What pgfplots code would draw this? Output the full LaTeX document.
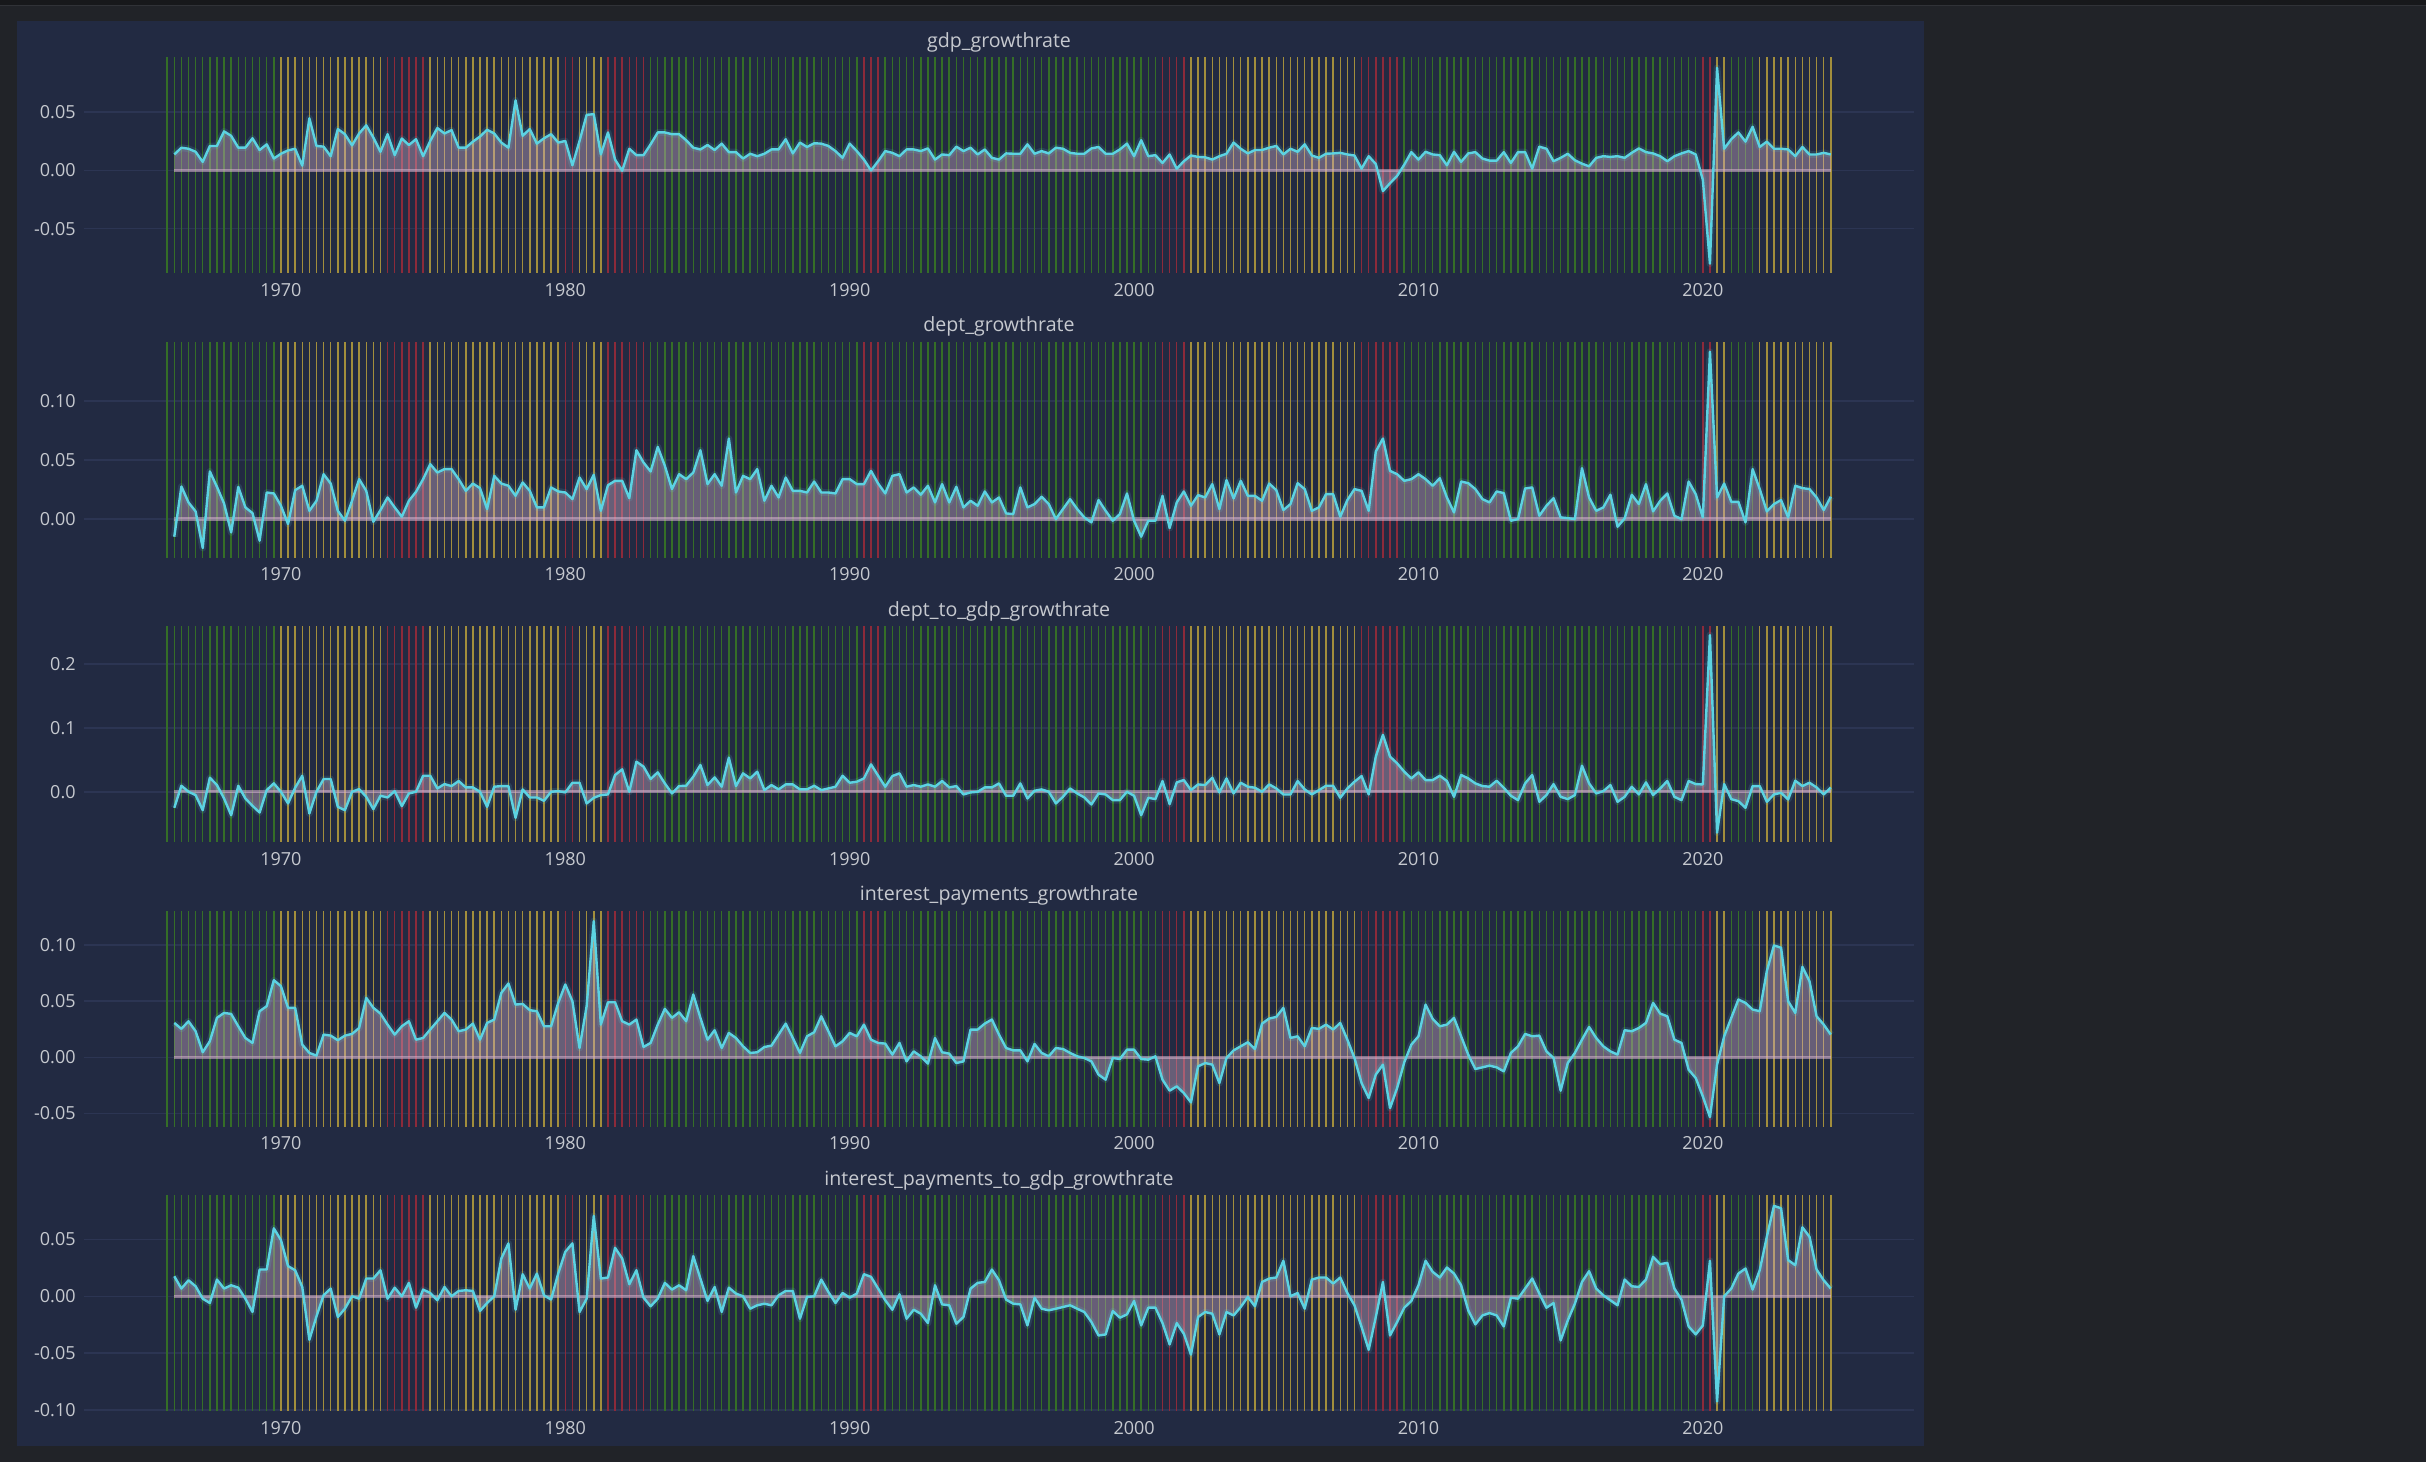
\documentclass[border=0pt]{standalone}
\usepackage{pgfplots}
\pgfplotsset{compat=1.18}
\usepackage{pgfplotstable}
\usepackage{fontspec}
\setmainfont{Open Sans}
\definecolor{bgout}{HTML}{212328}
\definecolor{bgtop}{HTML}{17181B}
\definecolor{bgline}{HTML}{303237}
\definecolor{panel}{HTML}{222A42}
\definecolor{gridc}{HTML}{2C3553}
\definecolor{txt}{HTML}{C6C9CF}
\definecolor{vg}{HTML}{356E27}
\definecolor{vy}{HTML}{A28E3C}
\definecolor{vr}{HTML}{8C2A3A}
\definecolor{linec}{HTML}{5CD3E2}
\definecolor{fillc}{HTML}{D9B5CF}

\pgfplotstableread{
t b
1966.0 -1
1966.25 -1
1966.5 -1
1966.75 -1
1967.0 -1
1967.25 -1
1967.5 -1
1967.75 -1
1968.0 -1
1968.25 -1
1968.5 -1
1968.75 -1
1969.0 -1
1969.25 -1
1969.5 -1
1969.75 -1
1983.0 -1
1983.25 -1
1983.5 -1
1983.75 -1
1984.0 -1
1984.25 -1
1984.5 -1
1984.75 -1
1985.0 -1
1985.25 -1
1985.5 -1
1985.75 -1
1986.0 -1
1986.25 -1
1986.5 -1
1986.75 -1
1987.0 -1
1987.25 -1
1987.5 -1
1987.75 -1
1988.0 -1
1988.25 -1
1988.5 -1
1988.75 -1
1989.0 -1
1989.25 -1
1989.5 -1
1989.75 -1
1990.0 -1
1990.25 -1
1991.25 -1
1991.5 -1
1991.75 -1
1992.0 -1
1992.25 -1
1992.5 -1
1992.75 -1
1993.0 -1
1993.25 -1
1993.5 -1
1993.75 -1
1994.0 -1
1994.25 -1
1994.5 -1
1994.75 -1
1995.0 -1
1995.25 -1
1995.5 -1
1995.75 -1
1996.0 -1
1996.25 -1
1996.5 -1
1996.75 -1
1997.0 -1
1997.25 -1
1997.5 -1
1997.75 -1
1998.0 -1
1998.25 -1
1998.5 -1
1998.75 -1
1999.0 -1
1999.25 -1
1999.5 -1
1999.75 -1
2000.0 -1
2000.25 -1
2000.5 -1
2000.75 -1
2009.5 -1
2009.75 -1
2010.0 -1
2010.25 -1
2010.5 -1
2010.75 -1
2011.0 -1
2011.25 -1
2011.5 -1
2011.75 -1
2012.0 -1
2012.25 -1
2012.5 -1
2012.75 -1
2013.0 -1
2013.25 -1
2013.5 -1
2013.75 -1
2014.0 -1
2014.25 -1
2014.5 -1
2014.75 -1
2015.0 -1
2015.25 -1
2015.5 -1
2015.75 -1
2016.0 -1
2016.25 -1
2016.5 -1
2016.75 -1
2017.0 -1
2017.25 -1
2017.5 -1
2017.75 -1
2018.0 -1
2018.25 -1
2018.5 -1
2018.75 -1
2019.0 -1
2019.25 -1
2019.5 -1
2019.75 -1
2021.0 -1
2021.25 -1
2021.5 -1
2021.75 -1
}\greenT

\pgfplotstableread{
t b
1970.0 -1
1970.25 -1
1970.5 -1
1970.75 -1
1971.0 -1
1971.25 -1
1971.5 -1
1971.75 -1
1972.0 -1
1972.25 -1
1972.5 -1
1972.75 -1
1973.0 -1
1973.25 -1
1973.5 -1
1975.25 -1
1975.5 -1
1975.75 -1
1976.0 -1
1976.25 -1
1976.5 -1
1976.75 -1
1977.0 -1
1977.25 -1
1977.5 -1
1977.75 -1
1978.0 -1
1978.25 -1
1978.5 -1
1978.75 -1
1979.0 -1
1979.25 -1
1979.5 -1
1979.75 -1
1980.5 -1
1980.75 -1
1981.0 -1
1981.25 -1
2002.0 -1
2002.25 -1
2002.5 -1
2002.75 -1
2003.0 -1
2003.25 -1
2003.5 -1
2003.75 -1
2004.0 -1
2004.25 -1
2004.5 -1
2004.75 -1
2005.0 -1
2005.25 -1
2005.5 -1
2005.75 -1
2006.0 -1
2006.25 -1
2006.5 -1
2006.75 -1
2007.0 -1
2007.25 -1
2007.5 -1
2007.75 -1
2020.5 -1
2020.75 -1
2022.0 -1
2022.25 -1
2022.5 -1
2022.75 -1
2023.0 -1
2023.25 -1
2023.5 -1
2023.75 -1
2024.0 -1
2024.25 -1
2024.5 -1
}\yellowT

\pgfplotstableread{
t b
1973.75 -1
1974.0 -1
1974.25 -1
1974.5 -1
1974.75 -1
1975.0 -1
1980.0 -1
1980.25 -1
1981.5 -1
1981.75 -1
1982.0 -1
1982.25 -1
1982.5 -1
1982.75 -1
1990.5 -1
1990.75 -1
1991.0 -1
2001.0 -1
2001.25 -1
2001.5 -1
2001.75 -1
2008.0 -1
2008.25 -1
2008.5 -1
2008.75 -1
2009.0 -1
2009.25 -1
2020.0 -1
2020.25 -1
}\redT

\pgfplotstableread{
t g d dg ip ipg
1966.25 0.0137 -0.0149 -0.0251 0.0306 0.0176
1966.5 0.0195 0.0276 0.0094 0.0253 0.0068
1966.75 0.0186 0.0141 0.0 0.0321 0.0141
1967.0 0.016 0.0065 -0.0052 0.0232 0.0088
1967.25 0.0073 -0.0245 -0.0288 0.0045 -0.0021
1967.5 0.021 0.0403 0.022 0.0143 -0.0059
1967.75 0.021 0.0273 0.0105 0.0351 0.0147
1968.0 0.0335 0.0132 -0.0105 0.0395 0.0068
1968.25 0.0297 -0.0113 -0.0367 0.0386 0.0097
1968.5 0.0195 0.0273 0.0094 0.0276 0.0076
1968.75 0.0195 0.0099 -0.0105 0.0172 -0.0021
1969.0 0.0276 0.0051 -0.022 0.0128 -0.0138
1969.25 0.0175 -0.0183 -0.0325 0.041 0.0235
1969.5 0.0224 0.0225 0.0026 0.0455 0.0235
1969.75 0.0102 0.0217 0.0131 0.0686 0.0597
1970.0 0.0143 0.0113 0.0 0.0633 0.0494
1970.25 0.0172 -0.0042 -0.0183 0.044 0.0265
1970.5 0.0186 0.0245 0.0063 0.044 0.0229
1970.75 0.0041 0.0282 0.0251 0.0113 0.0082
1971.0 0.0448 0.007 -0.034 0.0039 -0.0382
1971.25 0.021 0.0155 0.0 0.0015 -0.0176
1971.5 0.0204 0.038 0.0199 0.0202 0.0009
1971.75 0.0122 0.0301 0.0199 0.0193 0.0068
1972.0 0.0355 0.007 -0.0236 0.0152 -0.0182
1972.25 0.0311 -0.0014 -0.0288 0.0193 -0.0109
1972.5 0.0215 0.0155 0.0 0.0208 0.0
1972.75 0.0317 0.0338 0.0042 0.0261 -0.0021
1973.0 0.0387 0.0239 -0.0079 0.0529 0.0156
1973.25 0.0282 -0.0023 -0.0272 0.044 0.0156
1973.5 0.016 0.0076 -0.0063 0.0389 0.0229
1973.75 0.0311 0.0183 -0.0089 0.0291 -0.0021
1974.0 0.0131 0.0099 0.001 0.0202 0.0076
1974.25 0.0274 0.002 -0.0225 0.0276 0.0
1974.5 0.0218 0.0155 -0.0026 0.0321 0.0118
1974.75 0.0268 0.0231 0.0 0.0157 -0.01
1975.0 0.0122 0.0338 0.0251 0.0172 0.0059
1975.25 0.0253 0.0465 0.0251 0.0247 0.0029
1975.5 0.0364 0.0394 0.0052 0.0321 -0.0035
1975.75 0.0317 0.0423 0.012 0.0395 0.0082
1976.0 0.0346 0.0423 0.0089 0.0336 0.0
1976.25 0.0195 0.0338 0.0168 0.0232 0.0047
1976.5 0.0195 0.0239 0.0068 0.0247 0.0053
1976.75 0.0247 0.0301 0.0068 0.03 0.0047
1977.0 0.0291 0.0262 0.0 0.0157 -0.0129
1977.25 0.0349 0.0085 -0.0236 0.0306 -0.0059
1977.5 0.0317 0.0366 0.0079 0.0336 0.0
1977.75 0.0239 0.0301 0.0089 0.0573 0.0332
1978.0 0.0195 0.0282 0.0089 0.0657 0.0465
1978.25 0.0602 0.0197 -0.0408 0.0469 -0.0118
1978.5 0.0297 0.031 0.0037 0.0475 0.0194
1978.75 0.0355 0.0239 -0.0089 0.0419 0.0068
1979.0 0.023 0.0099 -0.0089 0.041 0.02
1979.25 0.0276 0.0099 -0.0141 0.0276 0.0009
1979.5 0.0311 0.0268 0.0 0.0276 -0.0029
1979.75 0.0239 0.0234 0.001 0.0484 0.02
1980.0 0.0253 0.0225 -0.001 0.0648 0.0391
1980.25 0.0044 0.0169 0.0141 0.0499 0.0465
1980.5 0.0253 0.0352 0.0141 0.0083 -0.0138
1980.75 0.0477 0.0254 -0.0183 0.0455 -0.0021
1981.0 0.0483 0.0375 -0.0094 0.1212 0.0706
1981.25 0.0137 0.007 -0.0052 0.0291 0.0156
1981.5 0.0326 0.0287 -0.0042 0.049 0.0165
1981.75 0.0093 0.0324 0.0262 0.049 0.0426
1982.0 -0.0003 0.0324 0.0351 0.0321 0.0332
1982.25 0.0186 0.0177 0.0 0.0291 0.0106
1982.5 0.0131 0.0583 0.0471 0.0336 0.0229
1982.75 0.0131 0.0479 0.0393 0.0092 -0.0012
1983.0 0.0224 0.0403 0.0199 0.0128 -0.0088
1983.25 0.0326 0.0611 0.0304 0.0291 -0.0021
1983.5 0.0326 0.0451 0.0131 0.0431 0.0118
1983.75 0.0311 0.0254 -0.0026 0.0351 0.0059
1984.0 0.0311 0.038 0.0089 0.0401 0.0097
1984.25 0.0259 0.0338 0.0094 0.0321 0.0053
1984.5 0.0195 0.0394 0.0236 0.0559 0.0353
1984.75 0.018 0.0583 0.0419 0.0351 0.0156
1985.0 0.0218 0.0296 0.0105 0.0157 -0.0041
1985.25 0.0175 0.038 0.0225 0.0241 0.0082
1985.5 0.023 0.0282 0.0079 0.0083 -0.0138
1985.75 0.0157 0.0682 0.0534 0.0217 0.0076
1986.0 0.0157 0.0225 0.0089 0.0172 0.0024
1986.25 0.0102 0.0366 0.0288 0.0098 0.0
1986.5 0.0143 0.0338 0.0209 0.0039 -0.0109
1986.75 0.0122 0.0423 0.0314 0.0045 -0.0079
1987.0 0.0143 0.0155 0.0026 0.0092 -0.0065
1987.25 0.018 0.0282 0.0105 0.0104 -0.0079
1987.5 0.018 0.0183 0.0037 0.0202 0.0009
1987.75 0.0268 0.0352 0.0115 0.03 0.0047
1988.0 0.0146 0.0239 0.0115 0.0172 0.0047
1988.25 0.0239 0.0239 0.0037 0.0039 -0.0197
1988.5 0.0201 0.0225 0.0037 0.0187 -0.0006
1988.75 0.0233 0.0318 0.0094 0.0223 0.0
1989.0 0.023 0.0225 0.0026 0.0365 0.0147
1989.25 0.021 0.0225 0.0052 0.0232 0.0038
1989.5 0.0166 0.0217 0.0079 0.0098 -0.0059
1989.75 0.0108 0.0338 0.0251 0.0143 0.0029
1990.0 0.023 0.0338 0.0141 0.0217 -0.0012
1990.25 0.0166 0.0296 0.0157 0.0187 0.0024
1990.5 0.0093 0.0296 0.0209 0.0291 0.0194
1990.75 0.0 0.0408 0.0429 0.0157 0.0171
1991.0 0.0079 0.0301 0.0251 0.0128 0.0068
1991.25 0.0166 0.0217 0.0079 0.0122 -0.0035
1991.5 0.0151 0.0366 0.0246 0.0024 -0.0118
1991.75 0.0122 0.038 0.0288 0.0128 0.0018
1992.0 0.018 0.0225 0.0079 -0.0036 -0.0197
1992.25 0.018 0.0268 0.0105 0.0053 -0.0118
1992.5 0.0166 0.0206 0.0079 0.0009 -0.0153
1992.75 0.0189 0.0282 0.0115 -0.0056 -0.0235
1993.0 0.0093 0.0141 0.0079 0.0172 0.0097
1993.25 0.0137 0.0296 0.0168 0.0045 -0.0071
1993.5 0.0131 0.0141 0.0068 0.0033 -0.0079
1993.75 0.0204 0.0273 0.0089 -0.0051 -0.0241
1994.0 0.0166 0.0099 -0.0042 -0.0036 -0.0182
1994.25 0.0195 0.0155 -0.001 0.0247 0.0068
1994.5 0.0137 0.0113 0.0 0.0247 0.0118
1994.75 0.018 0.0234 0.0068 0.03 0.0126
1995.0 0.0108 0.0141 0.0068 0.0336 0.0235
1995.25 0.0093 0.0183 0.0131 0.0202 0.0141
1995.5 0.0146 0.0048 -0.0063 0.0083 -0.0029
1995.75 0.0143 0.0042 -0.0063 0.0062 -0.0065
1996.0 0.0143 0.0268 0.0131 0.0062 -0.0071
1996.25 0.0224 0.0099 -0.0105 -0.0036 -0.0256
1996.5 0.0143 0.0127 0.0016 0.0119 -0.0012
1996.75 0.0166 0.0189 0.0037 0.0039 -0.0109
1997.0 0.0146 0.0127 0.0 0.0009 -0.0123
1997.25 0.0195 0.0 -0.0183 0.0083 -0.0109
1997.5 0.0186 0.0085 -0.0079 0.0074 -0.0094
1997.75 0.0151 0.0169 0.0052 0.0039 -0.0079
1998.0 0.0143 0.0085 -0.0026 0.0009 -0.0109
1998.25 0.0143 0.0014 -0.0089 -0.0006 -0.0138
1998.5 0.0189 -0.0028 -0.0199 -0.0036 -0.0226
1998.75 0.0201 0.0161 -0.0026 -0.0154 -0.0344
1999.0 0.0143 0.007 -0.0042 -0.0199 -0.0335
1999.25 0.0143 -0.0014 -0.0131 -0.0006 -0.0129
1999.5 0.018 0.0042 -0.0131 -0.0015 -0.0188
1999.75 0.023 0.0217 0.0 0.0068 -0.0159
2000.0 0.0122 -0.0014 -0.0063 0.0068 -0.0041
2000.25 0.0259 -0.0149 -0.0367 -0.0015 -0.0256
2000.5 0.0122 -0.0014 -0.0094 -0.0021 -0.01
2000.75 0.0131 -0.0014 -0.0115 0.0009 -0.01
2001.0 0.0064 0.0197 0.0168 -0.0199 -0.0235
2001.25 0.0137 -0.0076 -0.0194 -0.0297 -0.0423
2001.5 0.0015 0.0141 0.0147 -0.0258 -0.0235
2001.75 0.0079 0.0234 0.0183 -0.0318 -0.0329
2002.0 0.0128 0.0113 0.0026 -0.0401 -0.0512
2002.25 0.0116 0.0203 0.0115 -0.008 -0.0182
2002.5 0.0113 0.0183 0.0105 -0.0051 -0.0138
2002.75 0.0093 0.0296 0.022 -0.0065 -0.0153
2003.0 0.0122 0.0085 -0.001 -0.0229 -0.0335
2003.25 0.0143 0.033 0.0209 -0.0006 -0.0138
2003.5 0.0239 0.0175 -0.0026 0.0062 -0.0168
2003.75 0.0186 0.0324 0.0141 0.0098 -0.0094
2004.0 0.0146 0.0197 0.0079 0.0134 -0.0006
2004.25 0.0175 0.0197 0.0063 0.0074 -0.0088
2004.5 0.0175 0.0155 0.0 0.03 0.0126
2004.75 0.0195 0.0301 0.0115 0.0345 0.0156
2005.0 0.021 0.0245 0.0052 0.0359 0.0165
2005.25 0.0137 0.0076 -0.0042 0.044 0.0312
2005.5 0.0186 0.0127 -0.0042 0.0172 0.0
2005.75 0.016 0.0304 0.0168 0.0187 0.0029
2006.0 0.0224 0.0254 0.0037 0.0098 -0.0109
2006.25 0.0128 0.007 -0.0042 0.0261 0.0147
2006.5 0.0108 0.0099 0.0026 0.0253 0.0165
2006.75 0.0143 0.0211 0.0094 0.0291 0.0165
2007.0 0.0146 0.0211 0.0094 0.0247 0.0112
2007.25 0.0151 0.002 -0.0094 0.0306 0.0165
2007.5 0.0137 0.0161 0.0052 0.0157 0.0029
2007.75 0.0128 0.0254 0.0157 -0.0006 -0.0079
2008.0 0.0015 0.0239 0.0246 -0.0229 -0.027
2008.25 0.0122 0.007 -0.0042 -0.0362 -0.047
2008.5 0.0055 0.0572 0.055 -0.0154 -0.0182
2008.75 -0.0178 0.0682 0.089 -0.0065 0.0126
2009.0 -0.011 0.0408 0.055 -0.0452 -0.0344
2009.25 -0.0047 0.038 0.0445 -0.0273 -0.0226
2009.5 0.0049 0.0324 0.0314 -0.0045 -0.01
2009.75 0.0157 0.0338 0.0209 0.0113 -0.0041
2010.0 0.0093 0.038 0.0304 0.0187 0.0097
2010.25 0.016 0.0338 0.0183 0.0469 0.0312
2010.5 0.0137 0.0282 0.0183 0.0342 0.0215
2010.75 0.0131 0.0346 0.0251 0.0276 0.0165
2011.0 0.0044 0.0183 0.0168 0.0291 0.0253
2011.25 0.016 0.0056 -0.0079 0.0351 0.02
2011.5 0.0073 0.0318 0.0262 0.0187 0.0097
2011.75 0.0146 0.0304 0.0209 0.0024 -0.0123
2012.0 0.0157 0.0254 0.0131 -0.0104 -0.0247
2012.25 0.0102 0.0169 0.0089 -0.0089 -0.0168
2012.5 0.0084 0.0141 0.0079 -0.0074 -0.0147
2012.75 0.0084 0.0234 0.0173 -0.0089 -0.0168
2013.0 0.0157 0.022 0.0063 -0.0125 -0.0265
2013.25 0.0064 -0.0014 -0.0063 0.0039 -0.0012
2013.5 0.0157 0.0 -0.0131 0.0098 -0.0021
2013.75 0.0157 0.0259 0.0131 0.0208 0.0068
2014.0 0.0015 0.0268 0.0262 0.0187 0.0156
2014.25 0.0204 0.0028 -0.0157 0.0193 0.0024
2014.5 0.0186 0.0113 -0.0052 0.0053 -0.01
2014.75 0.0079 0.0177 0.012 -0.0006 -0.0059
2015.0 0.0108 0.0014 -0.0079 -0.0297 -0.0388
2015.25 0.0143 0.0008 -0.0115 -0.0051 -0.0212
2015.5 0.0087 0.0 -0.0052 0.0039 -0.0065
2015.75 0.0058 0.0431 0.0408 0.0157 0.0126
2016.0 0.0035 0.0183 0.0131 0.027 0.0221
2016.25 0.0108 0.007 -0.0026 0.0172 0.0068
2016.5 0.0122 0.0099 0.001 0.0098 0.0009
2016.75 0.0116 0.0206 0.0105 0.0053 -0.0035
2017.0 0.0122 -0.0065 -0.0157 0.0024 -0.0079
2017.25 0.0108 0.0006 -0.0079 0.0241 0.0147
2017.5 0.0151 0.0206 0.0079 0.0232 0.0088
2017.75 0.0189 0.0127 -0.0042 0.0261 0.0082
2018.0 0.0157 0.0296 0.0147 0.0306 0.0147
2018.25 0.0146 0.0065 -0.0052 0.0484 0.0347
2018.5 0.0122 0.0155 0.0052 0.0389 0.0282
2018.75 0.0079 0.0217 0.0168 0.0365 0.0294
2019.0 0.0122 0.0028 -0.0079 0.0157 0.0068
2019.25 0.0146 0.0 -0.0131 0.0128 -0.0029
2019.5 0.0166 0.0318 0.0168 -0.011 -0.0265
2019.75 0.0137 0.0211 0.012 -0.0184 -0.0335
2020.0 -0.0081 0.0014 0.0115 -0.0348 -0.0256
2020.25 -0.080 0.1417 0.245 -0.0532 0.0312
2020.5 0.088 0.0183 -0.0639 -0.0065 -0.0923
2020.75 0.0186 0.0301 0.012 0.0187 0.0
2021.0 0.0268 0.0146 -0.0115 0.0351 0.0068
2021.25 0.0326 0.0146 -0.0147 0.0514 0.02
2021.5 0.0247 -0.0028 -0.0251 0.0484 0.0244
2021.75 0.0375 0.0423 0.0089 0.0425 0.0059
2022.0 0.0201 0.0254 0.0089 0.041 0.0229
2022.25 0.0247 0.0065 -0.0157 0.0767 0.0523
2022.5 0.0186 0.0127 -0.0042 0.0995 0.0794
2022.75 0.0186 0.0161 -0.0016 0.0975 0.0773
2023.0 0.018 0.0014 -0.012 0.0499 0.0318
2023.25 0.0122 0.0282 0.0173 0.0395 0.0273
2023.5 0.0201 0.0262 0.0089 0.0805 0.0606
2023.75 0.0137 0.0254 0.0141 0.0677 0.0523
2024.0 0.0137 0.0183 0.0068 0.0365 0.0235
2024.25 0.0151 0.0076 -0.0042 0.0291 0.0141
2024.5 0.0137 0.0189 0.0068 0.0202 0.0068
}\data

\pgfplotsset{
  pan/.style={
    scale only axis, width=915pt, height=107.5pt,
    anchor=south west,
    xmin=1963.075, xmax=2027.425,
    axis line style={draw=none},
    major tick length=0pt, tick style={draw=none},
    ymajorgrids, grid style={draw=gridc, line width=0.8pt},
    xtick={1970,1980,1990,2000,2010,2020},
    scaled y ticks=false,
    /pgf/number format/assume math mode=true,
    ticklabel style={font=\fontsize{9}{10}\selectfont, text=txt},
    xticklabel style={inner sep=0pt, anchor=north, yshift=-5pt, /pgf/number format/1000 sep={}},
    yticklabel style={inner sep=0pt, anchor=east, xshift=-4pt, /pgf/number format/fixed, /pgf/number format/fixed zerofill, /pgf/number format/precision=2},
    title style={font=\fontsize{9.8}{11}\selectfont, text=txt, at={(0.5,1)}, anchor=center, yshift=2pt},
  }
}

\newcommand{\vlines}{%
  \addplot[vg, line width=0.75pt, quiver={u=0,v=2}] table[x=t, y=b] {\greenT};
  \addplot[vy, line width=0.75pt, quiver={u=0,v=2}] table[x=t, y=b] {\yellowT};
  \addplot[vr, line width=0.75pt, quiver={u=0,v=2}] table[x=t, y=b] {\redT};
}
\newcommand{\series}[1]{%
  \addplot[draw=none, fill=fillc, fill opacity=0.38] table[x=t, y=#1] {\data} \closedcycle;
  \addplot[fillc, line width=1.6pt, opacity=0.55] table[x=t, y expr=0] {\data};
  \addplot[linec, line width=3.4pt, opacity=0.13, line join=round] table[x=t, y=#1] {\data};
  \addplot[linec, line width=1.2pt, line join=round] table[x=t, y=#1] {\data};
}

\begin{document}
\begin{tikzpicture}
\useasboundingbox (0,0) rectangle (1213pt,731pt);
\fill[bgout] (0,0) rectangle (1213pt,731pt);
\fill[bgtop] (0,728.5pt) rectangle (1213pt,731pt);
\fill[bgline] (0,728pt) rectangle (1213pt,728.5pt);
\fill[panel] (8.5pt,8pt) rectangle (962pt,720.5pt);

\begin{axis}[pan, at={(42pt,594.5pt)}, title={gdp\_growthrate},
  ymin=-0.088, ymax=0.0965, ytick={-0.05,0,0.05}]
\vlines
\series{g}
\end{axis}

\begin{axis}[pan, at={(42pt,452.25pt)}, title={dept\_growthrate},
  ymin=-0.0325, ymax=0.1495, ytick={0,0.05,0.1}]
\vlines
\series{d}
\end{axis}

\begin{axis}[pan, at={(42pt,310pt)}, title={dept\_to\_gdp\_growthrate},
  ymin=-0.0785, ymax=0.2576, ytick={0,0.1,0.2},
  yticklabel style={/pgf/number format/precision=1}]
\vlines
\series{dg}
\end{axis}

\begin{axis}[pan, at={(42pt,167.75pt)}, title={interest\_payments\_growthrate},
  ymin=-0.0615, ymax=0.1297, ytick={-0.05,0,0.05,0.1}]
\vlines
\series{ip}
\end{axis}

\begin{axis}[pan, at={(42pt,25.5pt)}, title={interest\_payments\_to\_gdp\_growthrate},
  ymin=-0.1007, ymax=0.0881, ytick={-0.1,-0.05,0,0.05}]
\vlines
\series{ipg}
\end{axis}
\end{tikzpicture}
\end{document}
